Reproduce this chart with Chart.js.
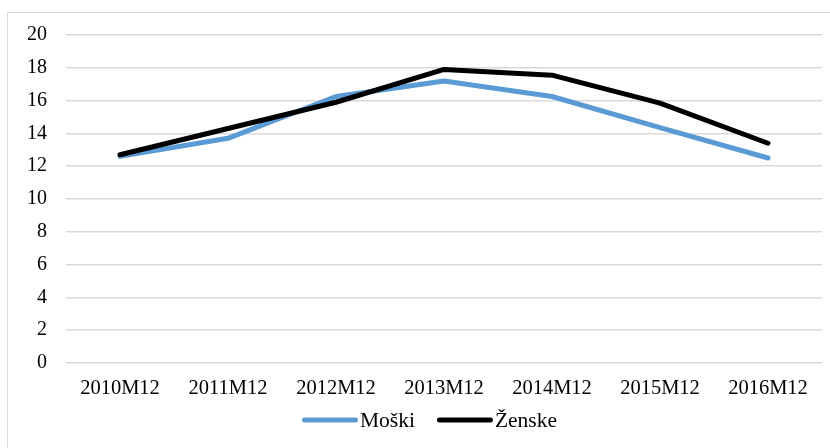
<!DOCTYPE html>
<html>
<head>
<meta charset="utf-8">
<script src="https://cdn.jsdelivr.net/npm/chart.js@4/dist/chart.umd.min.js"></script>
<style>
  html, body { margin: 0; padding: 0; background: #fff; }
  #wrap { position: relative; width: 830px; height: 448px; overflow: hidden; }
  #frame { position: absolute; left: 7px; top: 12px; width: 840px; height: 460px; border: 1px solid #d9d9d9; box-sizing: border-box; }
  canvas { position: absolute; left: 0; top: 0; }
</style>
</head>
<body>
<div id="wrap">
  <div id="frame"></div>
  <canvas id="c" width="830" height="448"></canvas>
</div>
<script>
const categories = ["2010M12", "2011M12", "2012M12", "2013M12", "2014M12", "2015M12", "2016M12"];
const moski = [12.6, 13.7, 16.25, 17.2, 16.25, 14.35, 12.5];
const zenske = [12.7, 14.3, 15.9, 17.9, 17.55, 15.85, 13.4];
const seriesNames = ["Moški", "Ženske"];
const yTicks = [0, 2, 4, 6, 8, 10, 12, 14, 16, 18, 20];

const FONT = "'Liberation Serif', 'Times New Roman', serif";

// Excel-style legend: long rounded line sample with text right after it
const lineLegend = {
  id: 'lineLegend',
  afterDraw(chart) {
    const ctx = chart.ctx;
    const sample = 56, gap = 2, spacing = 22, y = 420;
    ctx.save();
    ctx.font = "21.5px " + FONT;
    ctx.textBaseline = 'middle';
    const items = chart.data.datasets.map(ds => ({ ds, w: ctx.measureText(ds.label).width }));
    let total = 0;
    items.forEach((it, i) => { total += sample + gap + it.w + (i < items.length - 1 ? spacing : 0); });
    const center = (chart.width + 29) / 2;
    let x = center - total / 2;
    items.forEach(it => {
      ctx.strokeStyle = it.ds.borderColor;
      ctx.lineWidth = 5;
      ctx.lineCap = 'round';
      ctx.beginPath();
      ctx.moveTo(x + 2.5, y);
      ctx.lineTo(x + sample - 2.5, y);
      ctx.stroke();
      ctx.fillStyle = '#000';
      ctx.textAlign = 'left';
      ctx.fillText(it.ds.label, x + sample + gap, y + 1);
      x += sample + gap + it.w + spacing;
    });
    ctx.restore();
  }
};

new Chart(document.getElementById('c'), {
  type: 'line',
  data: {
    labels: categories,
    datasets: [
      { label: seriesNames[0], data: moski, borderColor: '#5B9BD5', backgroundColor: '#5B9BD5',
        borderWidth: 5, pointRadius: 0, tension: 0, borderCapStyle: 'round', borderJoinStyle: 'round', order: 1 },
      { label: seriesNames[1], data: zenske, borderColor: '#000000', backgroundColor: '#000000',
        borderWidth: 5, pointRadius: 0, tension: 0, borderCapStyle: 'round', borderJoinStyle: 'round', order: 0 }
    ]
  },
  plugins: [lineLegend],
  options: {
    responsive: false,
    animation: false,
    layout: { padding: { left: 0, right: 8, top: 35, bottom: 50 } },
    plugins: {
      tooltip: { enabled: false },
      legend: { display: false }
    },
    scales: {
      x: {
        offset: true,
        grid: { display: false, drawTicks: false },
        border: { display: false },
        ticks: { font: { family: FONT, size: 20.5 }, color: '#000', padding: 13, maxRotation: 0 },
        afterFit: (s) => { s.height = 35; }
      },
      y: {
        min: 0, max: 20,
        afterBuildTicks: (s) => { s.ticks = yTicks.map(v => ({ value: v })); },
        grid: { color: '#d9d9d9', lineWidth: 1.5, drawTicks: false },
        border: { display: false },
        ticks: { font: { family: FONT, size: 20 }, color: '#000', padding: 19 },
        afterFit: (s) => { s.width = 66; }
      }
    }
  }
});
</script>
</body>
</html>
